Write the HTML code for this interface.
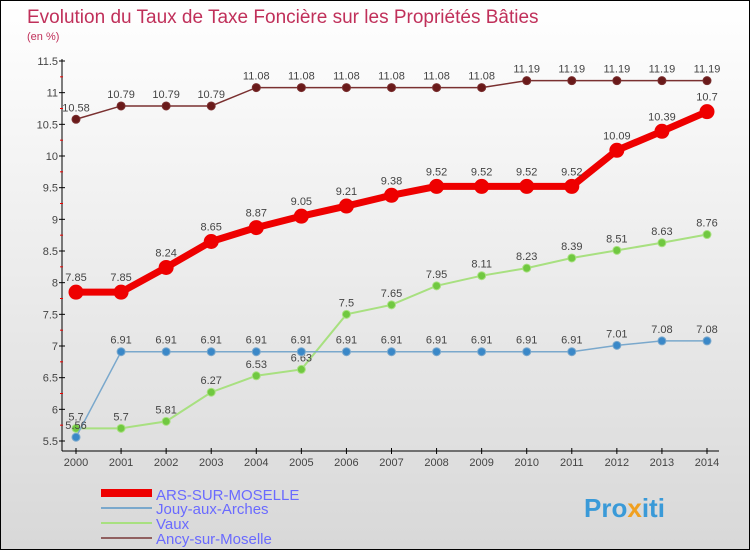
<!DOCTYPE html>
<html><head><meta charset="utf-8"><style>
body{margin:0}
#c{width:748px;height:548px;border:1px solid #000;background:linear-gradient(#fff,#d8d8d8);position:relative;font-family:"Liberation Sans",sans-serif;overflow:hidden}
</style></head><body>
<div id="c">
<svg id="s" width="748" height="548" xmlns="http://www.w3.org/2000/svg">
<text x="26" y="22" font-size="19" fill="#c0305a">Evolution du Taux de Taxe Foncière sur les Propriétés Bâties</text>
<text x="26" y="39" font-size="11" fill="#c0305a">(en %)</text>
<g id="axes"></g><g id="series"></g>
<g>
<rect x="100" y="488" width="51" height="8" fill="#e00"/>
<text x="155" y="499" font-size="15" fill="#6a6aff">ARS-SUR-MOSELLE</text>
<rect x="100" y="506" width="51" height="2" fill="#7aa8cc"/>
<text x="155" y="513" font-size="15" fill="#6a6aff">Jouy-aux-Arches</text>
<rect x="100" y="521" width="51" height="2" fill="#a8e080"/>
<text x="155" y="528" font-size="15" fill="#6a6aff">Vaux</text>
<rect x="100" y="536" width="51" height="2" fill="#906060"/>
<text x="155" y="543" font-size="15" fill="#6a6aff">Ancy-sur-Moselle</text>
</g>
<text x="583" y="516" font-size="26" font-weight="bold" fill="#3a9ad8">Pro<tspan fill="#f0a020">x</tspan>iti</text>
</svg></div>
<script>
const years=[2000,2001,2002,2003,2004,2005,2006,2007,2008,2009,2010,2011,2012,2013,2014];
const ars=[7.85,7.85,8.24,8.65,8.87,9.05,9.21,9.38,9.52,9.52,9.52,9.52,10.09,10.39,10.7];
const jouy=[5.56,6.91,6.91,6.91,6.91,6.91,6.91,6.91,6.91,6.91,6.91,6.91,7.01,7.08,7.08];
const vaux=[5.7,5.7,5.81,6.27,6.53,6.63,7.5,7.65,7.95,8.11,8.23,8.39,8.51,8.63,8.76];
const ancy=[10.58,10.79,10.79,10.79,11.08,11.08,11.08,11.08,11.08,11.08,11.19,11.19,11.19,11.19,11.19];
const yTicks=[5.5,6,6.5,7,7.5,8,8.5,9,9.5,10,10.5,11,11.5];
const NS="http://www.w3.org/2000/svg";
const X=i=>75+i*(706-75)/(years.length-1);
const Y=v=>440-(v-5.5)*(380/6);
function mk(t,a,p){const e=document.createElementNS(NS,t);for(const k in a)e.setAttribute(k,a[k]);p.appendChild(e);return e;}
const ax=document.getElementById('axes');
let l=mk('line',{x1:61,y1:58,x2:61,y2:450,stroke:'#000'},ax);


l=mk('line',{x1:61,y1:450,x2:718,y2:450,stroke:'#000'},ax);


yTicks.forEach(v=>{
 mk('line',{x1:58,x2:64,y1:Y(v),y2:Y(v),stroke:'#000'},ax);
 if(v<11.5) mk('line',{x1:59,x2:62,y1:Y(v+0.25),y2:Y(v+0.25),stroke:'#e00'},ax);
 const t=mk('text',{x:57,y:Y(v)+4,'font-size':11,fill:'#444','text-anchor':'end'},ax);t.textContent=v;
 
 
});
years.forEach((y,i)=>{
 mk('line',{x1:X(i),x2:X(i),y1:447,y2:453,stroke:'#000'},ax);
 const t=mk('text',{x:X(i),y:465,'font-size':11,fill:'#444','text-anchor':'middle'},ax);t.textContent=y;
 
 
});
const sg=document.getElementById('series');
function series(d,name,col,fill,w,r,lab){
 const g=mk('g',{},sg);
 
 
 const p=mk('polyline',{points:d.map((v,i)=>X(i)+','+Y(v)).join(' '),fill:'none',stroke:col,'stroke-width':w},g);
 
 
 d.forEach((v,i)=>{
  const c=mk('circle',{cx:X(i),cy:Y(v),r:r,fill:fill,stroke:col,'stroke-width':1},g);
  
  
  const t=mk('text',{x:X(i),y:Y(v)-r-4,'font-size':11,fill:'#444','text-anchor':'middle'},g);t.textContent=v;
  
  
 });
}
series(ancy,'ancy','#7a3030','#6a1a1a',1.5,4);
series(vaux,'vaux','#a8e080','#70c840',2,4);
series(jouy,'jouy','#7aa8cc','#3a88c8',1.5,4);
series(ars,'ars','#e00','#e00',7,7);
</script>
</body></html>
